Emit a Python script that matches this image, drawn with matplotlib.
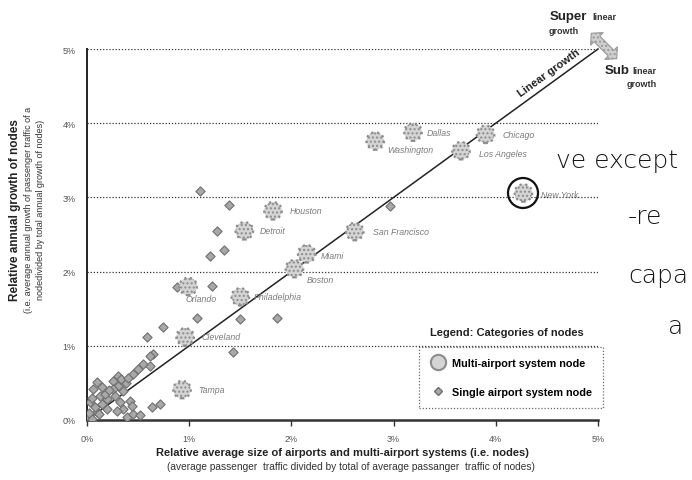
import matplotlib
matplotlib.use("Agg")
import matplotlib.pyplot as plt
from matplotlib.lines import Line2D
from matplotlib.patches import Polygon, Circle
import numpy as np

plt.rcParams['font.family'] = ['Liberation Sans', 'DejaVu Sans']

# Multi-airport system nodes: (relative size %, relative growth %)
multi_names = ["Dallas", "Washington", "Chicago", "Los Angeles", "New York",
               "Houston", "Detroit", "San Francisco", "Miami", "Boston",
               "Orlando", "Philadelphia", "Cleveland", "Tampa"]
multi_x = [3.19, 2.82, 3.90, 3.66, 4.27, 1.82, 1.54, 2.62, 2.15, 2.03,
           0.99, 1.50, 0.96, 0.93]
multi_y = [3.88, 3.76, 3.85, 3.63, 3.06, 2.82, 2.55, 2.54, 2.24, 2.04,
           1.80, 1.66, 1.12, 0.41]

# Single airport system nodes
single_x = [1.11, 1.39, 1.27, 1.20, 1.34, 0.88, 1.22, 1.08, 1.50, 1.86,
            0.74, 1.43, 0.65, 2.96, 0.59, 0.62, 0.55, 0.50, 0.45, 0.62,
            0.30, 0.25, 0.30, 0.35, 0.25, 0.10, 0.06, 0.13, 0.20, 0.03,
            0.42, 0.32, 0.35, 0.29, 0.20, 0.10, 0.00, 0.05, 0.39, 0.45,
            0.52, 0.64, 0.71, 0.44, 0.02, 0.08, 0.15, 0.12, 0.18, 0.22,
            0.15, 0.05, 0.27, 0.38, 0.33, 0.40]
single_y = [3.09, 2.90, 2.55, 2.21, 2.29, 1.79, 1.81, 1.37, 1.36, 1.37,
            1.25, 0.92, 0.89, 2.88, 1.12, 0.86, 0.76, 0.69, 0.62, 0.73,
            0.59, 0.53, 0.46, 0.39, 0.42, 0.51, 0.42, 0.32, 0.28, 0.24,
            0.26, 0.24, 0.15, 0.12, 0.15, 0.11, 0.05, 0.02, 0.04, 0.08,
            0.07, 0.18, 0.22, 0.19, 0.10, 0.18, 0.22, 0.08, 0.35, 0.40,
            0.45, 0.30, 0.32, 0.50, 0.55, 0.57]

ticks = [0, 1, 2, 3, 4, 5]
tick_labels = ["0%", "1%", "2%", "3%", "4%", "5%"]

# offsets (points) of the city labels from their markers
label_off = {"Dallas": (10, 0), "Washington": (9, -6), "Chicago": (12, 0),
             "Los Angeles": (13, -2), "New York": (13, -1), "Houston": (12, 0),
             "Detroit": (11, 0), "San Francisco": (13, 0), "Miami": (10, -1),
             "Boston": (9, -8), "Orlando": (-2, -9), "Philadelphia": (10, 0),
             "Cleveland": (12, 0), "Tampa": (12, 0)}

W, H = 692, 481
fig = plt.figure(figsize=(W / 100, H / 100), dpi=100)
ax = fig.add_axes([87 / W, 1 - 421 / H, (598 - 87) / W, (421 - 50) / H])
ax.set_xlim(0, 5)
ax.set_ylim(0, 5)

for g in ticks[1:]:
    ax.axhline(g, color="#333333", lw=0.9, ls=(0, (1, 1.5)), zorder=1)

ax.plot([0, 5], [0, 5], color="#222222", lw=1.1, zorder=2, clip_on=False)

ax.scatter(single_x, single_y, marker="D", s=22, facecolor="#a8a8a8",
           edgecolor="#6f6f6f", linewidth=0.8, zorder=3)
ax.scatter(multi_x, multi_y, marker="o", s=160, facecolor="#d4d4d4",
           edgecolor="#8c8c8c", linewidth=1.6, linestyle=":", hatch="....",
           zorder=4)

for n, x, y in zip(multi_names, multi_x, multi_y):
    ax.annotate(n, (x, y), xytext=label_off[n], textcoords="offset points",
                fontsize=6.3, style="italic", color="#7a7a7a", va="center",
                ha="left", zorder=5)

ax.set_xticks(ticks)
ax.set_xticklabels(tick_labels)
ax.set_yticks(ticks)
ax.set_yticklabels(tick_labels)
ax.tick_params(axis="x", length=4, width=1, colors="#333333", labelsize=6.5,
               labelcolor="#555555", pad=6)
ax.tick_params(axis="y", length=0, labelsize=6.5, labelcolor="#555555", pad=8)
for s in ("top", "right"):
    ax.spines[s].set_visible(False)
ax.spines["left"].set_linewidth(1.4)
ax.spines["left"].set_color("#222222")
ax.spines["bottom"].set_linewidth(1.8)
ax.spines["bottom"].set_linestyle((0, (1, 1)))
ax.spines["bottom"].set_color("#333333")

# axis titles
fig.text(15 / W, 1 - 210 / H, "Relative annual growth of nodes", rotation=90,
         ha="center", va="center", fontsize=8.5, fontweight="bold", color="#222222")
fig.text(29 / W, 1 - 210 / H, "(i.e. average annual growth of passenger traffic of a",
         rotation=90, ha="center", va="center", fontsize=6.5, color="#333333")
fig.text(41 / W, 1 - 210 / H, "nodedivided by total annual growth of nodes)",
         rotation=90, ha="center", va="center", fontsize=6.5, color="#333333")
fig.text(342 / W, 1 - 453 / H,
         "Relative average size of airports and multi-airport systems (i.e. nodes)",
         ha="center", va="center", fontsize=8, fontweight="bold", color="#222222")
fig.text(351 / W, 1 - 467 / H,
         "(average passenger  traffic divided by total of average passanger  traffic of nodes)",
         ha="center", va="center", fontsize=7.3, color="#333333")

# linear growth caption along the diagonal
ax.annotate("Linear growth", (4.55, 4.55), xytext=(-2, 7), textcoords="offset points",
            rotation=36, ha="center", va="center", fontsize=8, fontweight="bold",
            color="#222222", rotation_mode="anchor")

# double arrow perpendicular to the diagonal
cx, cy = 604, 47
d = np.array([1, 1]) / np.sqrt(2)
nrm = np.array([1, -1]) / np.sqrt(2)
L, hl, w, hw = 18, 8, 4, 9
c = np.array([cx, cy], dtype=float)
pts = [c - L * d,
       c - (L - hl) * d + hw * nrm, c - (L - hl) * d + w * nrm,
       c + (L - hl) * d + w * nrm, c + (L - hl) * d + hw * nrm,
       c + L * d,
       c + (L - hl) * d - hw * nrm, c + (L - hl) * d - w * nrm,
       c - (L - hl) * d - w * nrm, c - (L - hl) * d - hw * nrm]
pts = np.array([[p[0] / 100, (H - p[1]) / 100] for p in pts])
fig.patches.append(Polygon(pts, closed=True, transform=fig.dpi_scale_trans,
                           facecolor="#cfcfcf", edgecolor="#9a9a9a", hatch="....",
                           lw=0.8))

fig.text(550 / W, 1 - 17 / H, "Super", fontsize=9.5, fontweight="bold", va="center",
         color="#222222")
fig.text(592 / W, 1 - 17 / H, "linear", fontsize=6.5, fontweight="bold", va="center",
         color="#333333")
fig.text(549 / W, 1 - 31 / H, "growth", fontsize=6.5, fontweight="bold", va="center",
         color="#333333")
fig.text(605 / W, 1 - 71 / H, "Sub", fontsize=9.5, fontweight="bold", va="center",
         color="#222222")
fig.text(632 / W, 1 - 71 / H, "linear", fontsize=6.5, fontweight="bold", va="center",
         color="#333333")
fig.text(627 / W, 1 - 85 / H, "growth", fontsize=6.5, fontweight="bold", va="center",
         color="#333333")

# legend
fig.text(507 / W, 1 - 333 / H, "Legend: Categories of nodes", ha="center",
         va="center", fontsize=8, fontweight="bold", color="#222222")
handles = [Line2D([], [], marker="o", ls="none", markersize=11,
                  markerfacecolor="#d4d4d4", markeredgecolor="#8c8c8c",
                  markeredgewidth=1.5),
           Line2D([], [], marker="D", ls="none", markersize=4.5,
                  markerfacecolor="#a8a8a8", markeredgecolor="#6f6f6f")]
leg = fig.legend(handles, ["Multi-airport system node", "Single airport system node"],
                 loc="upper left", bbox_to_anchor=(414 / W, 1 - 343 / H),
                 frameon=True, fancybox=False, labelspacing=1.7,
                 handletextpad=0.5, borderpad=1.0, handlelength=1.5,
                 prop={"weight": "bold", "size": 7.8})
fr = leg.get_frame()
fr.set_linestyle((0, (1, 1.5)))
fr.set_edgecolor("#444444")
fr.set_linewidth(0.9)

# hand-drawn notes
ax.add_patch(Circle((523 / 100, (H - 194) / 100), 0.15, transform=fig.dpi_scale_trans,
                    fill=False, edgecolor="#111111", lw=1.6, zorder=6, clip_on=False))
hand = dict(fontsize=18, fontweight="light", color="#151515", va="baseline",
            family="DejaVu Sans")
fig.text(556 / W, 1 - 168 / H, "ve except", **hand)
fig.text(628 / W, 1 - 224 / H, "-re", **hand)
fig.text(628 / W, 1 - 283 / H, "capa", **hand)
fig.text(668 / W, 1 - 334 / H, "a", **hand)

fig.savefig("out.png", dpi=100)
